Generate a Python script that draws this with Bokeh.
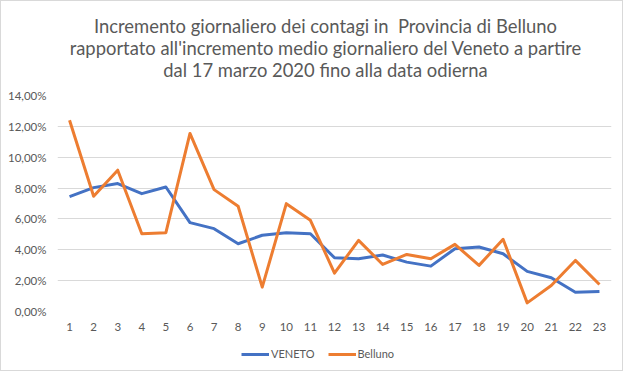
from bokeh.plotting import figure
from bokeh.models import FixedTicker, Legend, LegendItem, ColumnDataSource, Div, Range1d
from bokeh.layouts import column
from bokeh.embed import file_html
from bokeh.resources import INLINE

days = list(range(1, 24))
veneto = [7.45, 8.03, 8.29, 7.64, 8.07, 5.76, 5.37, 4.39, 4.94, 5.11, 5.04, 3.48,
          3.42, 3.66, 3.20, 2.94, 4.07, 4.18, 3.74, 2.60, 2.19, 1.25, 1.30]
belluno = [12.40, 7.47, 9.16, 5.04, 5.11, 11.54, 7.90, 6.82, 1.58, 6.99, 5.91, 2.49,
           4.61, 3.05, 3.70, 3.42, 4.35, 2.99, 4.68, 0.56, 1.69, 3.31, 1.75]
y_ticks = [0, 2, 4, 6, 8, 10, 12, 14]
y_tick_labels = ["0,00%", "2,00%", "4,00%", "6,00%", "8,00%", "10,00%", "12,00%", "14,00%"]
series_names = ["VENETO", "Belluno"]
title_lines = ["Incremento giornaliero dei contagi in&nbsp; Provincia di Belluno",
               "rapportato all'incremento medio giornaliero del Veneto a partire",
               "dal 17 marzo 2020 fino alla data odierna"]

FONT = "Lato"
TXT = "#595959"
GRID = "#D9D9D9"
BLUE = "#4472C4"
ORANGE = "#ED7D31"
W = 621

src = ColumnDataSource(dict(x=days, v=veneto, b=belluno))

title = Div(text="<br>".join(title_lines), width=W, height=87, margin=0,
            styles={"text-align": "center", "font-family": FONT, "font-size": "18.4px",
                    "line-height": "22px", "color": TXT, "padding-top": "14px",
                    "padding-left": "28px", "box-sizing": "border-box",
                    "background": "white"})

p = figure(width=W, height=252, output_backend="svg", toolbar_location=None,
           x_range=(0.5, 23.5), y_range=(0, 14),
           min_border_left=56, min_border_right=11, min_border_top=7, min_border_bottom=29)

p.outline_line_color = None
p.background_fill_color = "white"
p.border_fill_color = "white"

r1 = p.line("x", "v", source=src, line_color=BLUE, line_width=3, line_join="round")
r2 = p.line("x", "b", source=src, line_color=ORANGE, line_width=3, line_join="round")

p.xaxis.ticker = FixedTicker(ticks=days)
p.yaxis.ticker = FixedTicker(ticks=y_ticks)
p.yaxis.major_label_overrides = {t: l for t, l in zip(y_ticks, y_tick_labels)}

for ax in (p.xaxis[0], p.yaxis[0]):
    ax.axis_line_color = None
    ax.major_tick_line_color = None
    ax.minor_tick_line_color = None
    ax.major_tick_out = 0
    ax.major_tick_in = 0
    ax.major_label_text_font = FONT
    ax.major_label_text_font_size = "11.5px"
    ax.major_label_text_color = TXT
p.yaxis.major_label_standoff = 11
p.xaxis.major_label_standoff = 11

p.xgrid.grid_line_color = None
p.ygrid.grid_line_color = GRID
p.ygrid.grid_line_width = 1

# legend strip: a separate small figure whose ranges keep its copies of the lines out of view
lg = figure(width=W, height=30, output_backend="svg", toolbar_location=None,
            x_range=Range1d(0.5, 23.5), y_range=Range1d(100, 101),
            x_axis_location=None, y_axis_location=None,
            min_border_left=0, min_border_right=0, min_border_top=0, min_border_bottom=0)
lg.outline_line_color = None
lg.grid.grid_line_color = None
lg.background_fill_color = "white"
lg.border_fill_color = "white"
l1 = lg.line("x", "v", source=src, line_color=BLUE, line_width=3)
l2 = lg.line("x", "b", source=src, line_color=ORANGE, line_width=3)
legend = Legend(items=[LegendItem(label=series_names[0], renderers=[l1]),
                       LegendItem(label=series_names[1], renderers=[l2])],
                orientation="horizontal", location=(184, 10),
                label_text_font=FONT, label_text_font_size="11px", label_text_color=TXT,
                glyph_width=28, glyph_height=10, label_standoff=2, spacing=13,
                border_line_color=None, background_fill_alpha=0, padding=0, margin=0)
lg.add_layout(legend)

layout = column(title, p, lg, spacing=0, styles={"border": "1px solid #D9D9D9"})
open("out.html", "w").write(file_html(layout, INLINE))
